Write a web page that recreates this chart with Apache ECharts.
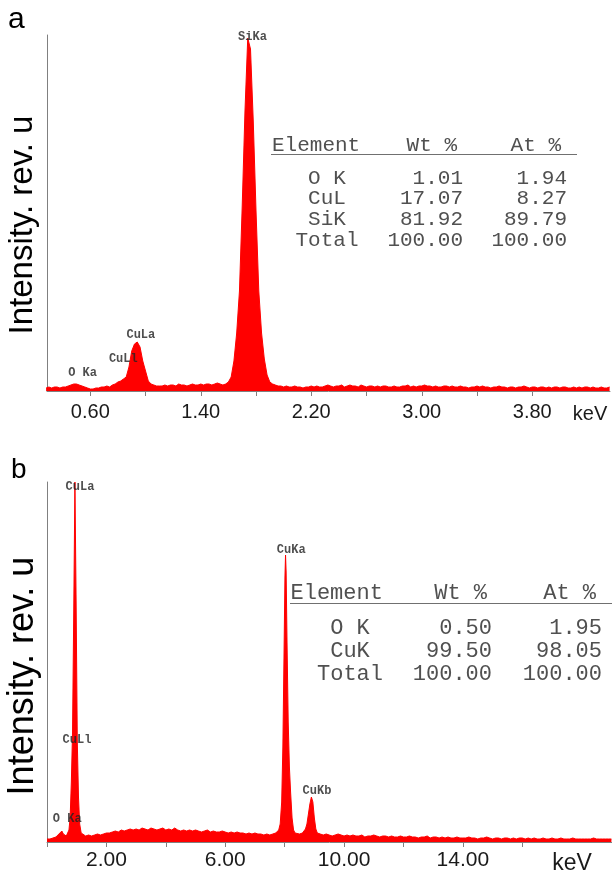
<!DOCTYPE html>
<html><head><meta charset="utf-8">
<script src="https://cdn.jsdelivr.net/npm/echarts@6/dist/echarts.min.js"></script>
<style>html,body{margin:0;padding:0;background:#fff}#c{width:612px;height:874px}</style>
</head><body><div id="c"></div><script>
// ---------- Panel a : EDS spectrum (uniform channels) ----------
const aStartKeV = 0.28, aStepKeV = 0.02;
const aCounts = [
  3,4,3,4,4,3,4,
  4,5,6,7,7,6,5,4,3,2,
  2,3,3,4,4,5,4,6,7,9,
  10,12,14,24,40,47,49,44,30,20,10,7,6,5,5,
  5,6,5,6,6,5,7,6,6,5,6,7,6,6,7,6,7,7,6,7,8,7,6,7,9,
  14,30,58,100,185,280,353,342,270,180,100,58,32,16,9,
  7,6,5,5,4,5,4,4,5,4,4,3,4,4,5,
  4,5,4,4,5,6,5,4,5,5,6,4,5,6,5,5,4,6,5,4,
  5,5,4,5,4,5,5,4,4,5,4,4,5,5,6,4,5,4,5,5,
  6,5,5,4,5,4,4,5,5,4,5,4,4,5,4,4,3,4,4,5,
  4,5,4,4,3,4,4,5,4,4,3,4,4,3,4,4,5,4,3,4,
  4,3,4,4,3,4,3,4,4,3,4,4,3,3,4,3,4,3,4,4,
  3,4,3,3,4,3,3,4
];
const aTickValues  = [0.6,1.0,1.4,1.8,2.2,2.6,3.0,3.4,3.8];
const aLabelValues = [0.6,1.4,2.2,3.0,3.8];
const aPeakLabels = [
  [1.774, 354, 'SiKa'],
  [0.966, 56, 'CuLa'],
  [0.839, 31.7, 'CuLl'],
  [0.544, 18.3, 'O Ka']
];
const aTableHead = ['Element','Wt %','At %'];
const aTableNames = ['O K','CuL','SiK','Total'];
const aTableWt = ['1.01','17.07','81.92','100.00'];
const aTableAt = ['1.94','8.27','89.79','100.00'];

// ---------- Panel b : EDS spectrum [keV, counts] ----------
const bSpectrum = [
  [0.00,3],[0.10,3],[0.20,4],[0.30,5],[0.40,8],[0.45,10],[0.50,11],[0.55,8],[0.60,6],[0.65,6],
  [0.70,7],[0.74,12],[0.78,25],[0.82,60],[0.86,110],[0.90,230],[0.94,360],[0.98,240],[1.02,100],
  [1.06,45],[1.10,18],[1.15,9],[1.20,7],
  [1.3,6],[1.4,7],[1.5,6],[1.6,7],[1.7,8],[1.8,7],[1.9,8],[2.0,9],[2.1,9],[2.2,10],
  [2.3,11],[2.4,10],[2.5,12],[2.6,11],[2.7,12],[2.8,13],[2.9,12],[3.0,13],[3.1,12],[3.2,14],
  [3.3,13],[3.4,12],[3.5,14],[3.6,13],[3.7,12],[3.8,13],[3.9,14],[4.0,12],[4.1,13],[4.2,12],
  [4.3,14],[4.4,12],[4.5,11],[4.6,12],[4.7,11],[4.8,12],[4.9,11],[5.0,12],[5.1,11],[5.2,10],
  [5.3,11],[5.4,12],[5.5,10],[5.6,11],[5.7,10],[5.8,10],[5.9,11],[6.0,10],[6.1,9],[6.2,10],
  [6.3,9],[6.4,10],[6.5,9],[6.6,9],[6.7,8],[6.8,9],[6.9,8],[7.0,9],[7.1,8],[7.2,8],
  [7.3,7],[7.4,8],[7.5,7],[7.6,8],[7.7,9],
  [7.80,12],[7.85,18],[7.90,40],[7.94,95],[7.98,190],[8.01,265],[8.03,287],[8.05,270],[8.08,200],
  [8.12,120],[8.16,75],[8.20,50],[8.25,24],[8.30,12],[8.35,9],
  [8.4,8],[8.5,8],[8.6,9],
  [8.65,10],[8.70,13],[8.75,18],[8.80,28],[8.85,38],[8.90,45],[8.95,40],[9.00,24],[9.05,13],[9.10,9],
  [9.2,8],[9.3,7],[9.4,8],[9.5,7],[9.6,6],[9.7,7],[9.8,8],[9.9,7],[10.0,6],
  [10.1,7],[10.2,6],[10.3,7],[10.4,6],[10.5,6],[10.6,7],[10.7,5],[10.8,6],[10.9,6],[11.0,7],
  [11.1,6],[11.2,5],[11.3,6],[11.4,6],[11.5,5],[11.6,6],[11.7,5],[11.8,5],[11.9,6],[12.0,5],
  [12.1,5],[12.2,6],[12.3,5],[12.4,5],[12.5,4],[12.6,5],[12.7,5],[12.8,6],[12.9,4],[13.0,5],
  [13.1,5],[13.2,4],[13.3,5],[13.4,4],[13.5,5],[13.6,4],[13.7,4],[13.8,5],[13.9,4],[14.0,4],
  [14.1,4],[14.2,5],[14.3,4],[14.4,4],[14.5,3],[14.6,4],[14.7,4],[14.8,5],[14.9,4],[15.0,3],
  [15.1,4],[15.2,4],[15.3,3],[15.4,4],[15.5,4],[15.6,3],[15.7,4],[15.8,3],[15.9,4],[16.0,4],
  [16.1,3],[16.2,4],[16.3,3],[16.4,4],[16.5,3],[16.6,3],[16.7,4],[16.8,3],[16.9,3],[17.0,4],
  [17.1,3],[17.2,3],[17.3,4],[17.4,3],[17.5,3],[17.6,3],[17.7,4],[17.8,3],[17.9,3],[18.0,3],
  [18.1,3],[18.2,3],[18.3,3],[18.4,4],[18.5,3],[18.6,3],[18.7,3],[18.8,3],[18.9,3],[19.0,3]
];
const bTickValues  = [0,2,4,6,8,10,12,14,16];
const bLabelValues = [2,6,10,14];
const bPeakLabels = [
  [1.111, 354.7, 'CuLa'],
  [1.01, 102, 'CuLl'],
  [8.22, 292, 'CuKa'],
  [9.09, 51.3, 'CuKb'],
  [0.68, 22.7, 'O Ka']
];
const bTableHead = ['Element','Wt %','At %'];
const bTableNames = ['O K','CuK','Total'];
const bTableWt = ['0.50','99.50','100.00'];
const bTableAt = ['1.95','98.05','100.00'];

const yTitle = 'Intensity. rev. u';

// ---------- build ----------
const aData = aCounts.map((c, i) => [+(aStartKeV + i * aStepKeV).toFixed(2), c]);

const RED = '#ff0000', AX = '#808080';
function xAxisCfg(idx, min, max, ticks, labels, fs, margin) {
  return {
    type: 'value', gridIndex: idx, min: min, max: max,
    axisLine: { show: true, lineStyle: { color: AX, width: 1 } },
    axisTick: { show: true, length: 5, lineStyle: { color: AX }, customValues: ticks },
    axisLabel: { show: true, customValues: labels, margin: margin, color: '#1a1a1a',
      fontFamily: 'Liberation Sans', fontSize: fs, formatter: v => (+v).toFixed(2) },
    splitLine: { show: false }
  };
}
function yAxisCfg(idx, max) {
  return {
    type: 'value', gridIndex: idx, min: 0, max: max,
    axisLine: { show: true, lineStyle: { color: AX, width: 1 } },
    axisTick: { show: false }, axisLabel: { show: false }, splitLine: { show: false }
  };
}
function spectrum(idx, data) {
  return {
    type: 'line', xAxisIndex: idx, yAxisIndex: idx, data: data,
    showSymbol: false, symbol: 'none', lineStyle: { color: RED, width: 1 },
    areaStyle: { color: RED, opacity: 1 }, itemStyle: { color: RED }, z: 2
  };
}
function peakLabels(idx, data) {
  return {
    type: 'scatter', xAxisIndex: idx, yAxisIndex: idx, data: data, symbolSize: 1,
    itemStyle: { color: 'rgba(0,0,0,0)' }, z: 5, clip: false,
    label: { show: true, position: 'inside', formatter: p => p.data[2],
      fontFamily: 'Liberation Mono', fontWeight: 'bold', fontSize: 12, color: '#222' }
  };
}
function txt(x, y, s, o) {
  return Object.assign({ type: 'text', x: x, y: y, style: Object.assign({ text: s,
    fontFamily: 'Liberation Mono', fontSize: 21, fill: '#505050', verticalAlign: 'middle' }, o || {}) });
}
function table(head, names, wt, at, cfg) {
  const g = [];
  const st = { fontSize: cfg.fs };
  g.push(txt(cfg.elX, cfg.headY, head[0], Object.assign({ align: 'left' }, st)));
  g.push(txt(cfg.wtHX, cfg.headY, head[1], Object.assign({ align: 'right' }, st)));
  g.push(txt(cfg.atHX, cfg.headY, head[2], Object.assign({ align: 'right' }, st)));
  g.push({ type: 'line', shape: { x1: cfg.lineX1, y1: cfg.lineY, x2: cfg.lineX2, y2: cfg.lineY },
    style: { stroke: '#707070', lineWidth: 1 } });
  names.forEach((n, i) => {
    const y = cfg.rowY0 + i * cfg.rowDy;
    g.push(txt(cfg.nameCX, y, n, Object.assign({ align: 'center' }, st)));
    g.push(txt(cfg.wtX, y, wt[i], Object.assign({ align: 'right' }, st)));
    g.push(txt(cfg.atX, y, at[i], Object.assign({ align: 'right' }, st)));
  });
  return g;
}

const graphics = [].concat(
  table(aTableHead, aTableNames, aTableWt, aTableAt, { fs: 21, elX: 272, headY: 145,
    wtHX: 457, atHX: 561, lineX1: 271, lineX2: 577, lineY: 154.5,
    rowY0: 178, rowDy: 20.7, nameCX: 327, wtX: 463, atX: 567 }),
  table(bTableHead, bTableNames, bTableWt, bTableAt, { fs: 22, elX: 290.5, headY: 592.7,
    wtHX: 487, atHX: 596, lineX1: 290, lineX2: 612, lineY: 603.5,
    rowY0: 627.7, rowDy: 23, nameCX: 350, wtX: 492, atX: 602 }),
  [
    { type: 'text', x: 8, y: 20, style: { text: 'a', fontFamily: 'Liberation Sans', fontSize: 30, fill: '#000', verticalAlign: 'middle' } },
    { type: 'text', x: 11, y: 470, style: { text: 'b', fontFamily: 'Liberation Sans', fontSize: 28, fill: '#000', verticalAlign: 'middle' } },
    { type: 'text', x: 23, y: 225, rotation: Math.PI / 2, style: { text: yTitle, fontFamily: 'Liberation Sans', fontSize: 33, fill: '#000', align: 'center', verticalAlign: 'middle' } },
    { type: 'text', x: 23, y: 676, rotation: Math.PI / 2, style: { text: yTitle, fontFamily: 'Liberation Sans', fontSize: 36, fill: '#000', align: 'center', verticalAlign: 'middle' } },
    { type: 'text', x: 590, y: 414, style: { text: 'keV', fontFamily: 'Liberation Sans', fontSize: 20, fill: '#1a1a1a', align: 'center', verticalAlign: 'middle' } },
    { type: 'text', x: 572, y: 864, style: { text: 'keV', fontFamily: 'Liberation Sans', fontSize: 23, fill: '#1a1a1a', align: 'center', verticalAlign: 'middle' } }
  ]
);

const chart = echarts.init(document.getElementById('c'), null, { renderer: 'canvas' });
chart.setOption({
  animation: false,
  backgroundColor: '#fff',
  grid: [
    { left: 47, top: 35, width: 563, height: 356 },
    { left: 47, top: 482, width: 565, height: 360 }
  ],
  xAxis: [
    xAxisCfg(0, 0.2865, 4.363, aTickValues, aLabelValues, 20, 11),
    xAxisCfg(1, 0, 19.02, bTickValues, bLabelValues, 21, 8)
  ],
  yAxis: [yAxisCfg(0, 356), yAxisCfg(1, 360)],
  series: [spectrum(0, aData), spectrum(1, bSpectrum), peakLabels(0, aPeakLabels), peakLabels(1, bPeakLabels)],
  graphic: graphics
});
</script></body></html>
